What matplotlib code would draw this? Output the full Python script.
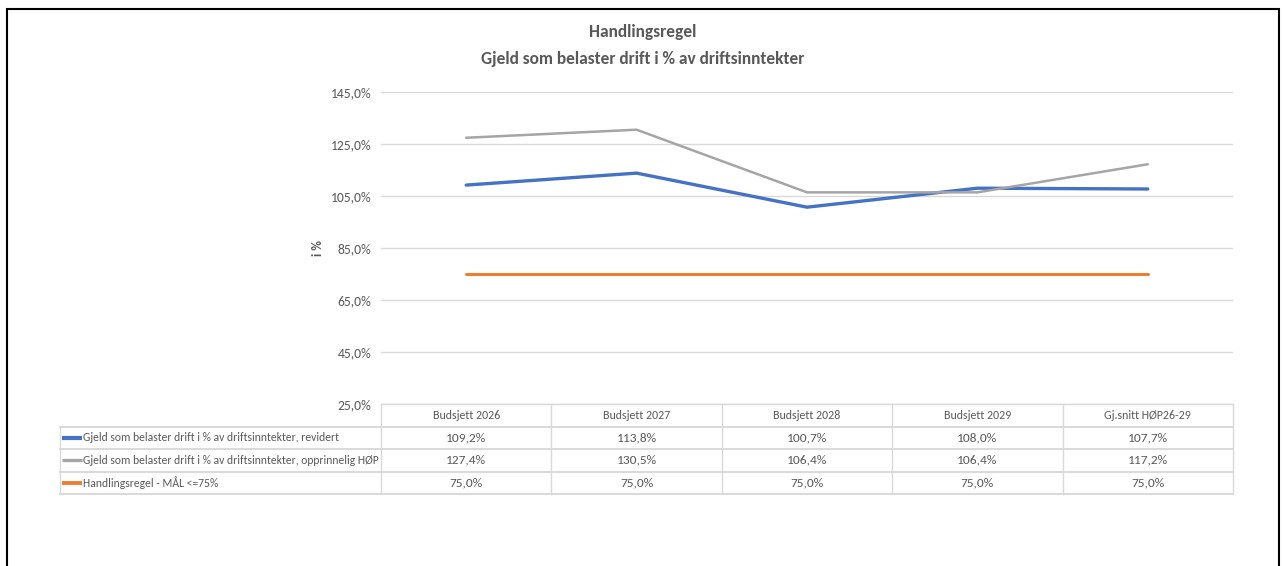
import numpy as np
import matplotlib.pyplot as plt
from matplotlib.patches import Rectangle

plt.rcParams['font.family'] = ['Carlito', 'DejaVu Sans']

# data
categories = ["Budsjett 2026", "Budsjett 2027", "Budsjett 2028", "Budsjett 2029", "Gj.snitt HØP26-29"]
revidert = [109.2, 113.8, 100.7, 108.0, 107.7]
opprinnelig = [127.4, 130.5, 106.4, 106.4, 117.2]
maal = [75.0, 75.0, 75.0, 75.0, 75.0]
series_names = ["Gjeld som belaster drift i % av driftsinntekter, revidert",
                "Gjeld som belaster drift i % av driftsinntekter, opprinnelig HØP",
                "Handlingsregel - MÅL <=75%"]
yticks = [25, 45, 65, 85, 105, 125, 145]

series = [revidert, opprinnelig, maal]
colors = ["#4472C4", "#A5A5A5", "#ED7D31"]
widths = [2.4, 1.8, 2.2]
txt = "#595959"
grid_c = "#D9D9D9"


def pct(v):
    return "{:.1f}%".format(v).replace(".", ",")


W, H = 1282, 566
fig = plt.figure(figsize=(W / 100, H / 100), dpi=100)


def box(x0, y0, x1, y1):
    # pixel box (y measured from top) -> figure fraction
    return [x0 / W, 1 - y1 / H, (x1 - x0) / W, (y1 - y0) / H]


# main plot
ax = fig.add_axes(box(381, 92, 1233, 404))
x = np.arange(len(categories))
for vals, c, lw in zip(series, colors, widths):
    ax.plot(x, vals, color=c, lw=lw, solid_capstyle="round", zorder=3)
ax.set_xlim(-0.5, len(categories) - 0.5)
ax.set_ylim(yticks[0], yticks[-1])
ax.set_yticks(yticks)
ax.set_yticklabels([pct(v) for v in yticks])
ax.set_xticks([])
ax.grid(axis="y", color=grid_c, lw=1)
for s in ax.spines.values():
    s.set_visible(False)
ax.tick_params(axis="y", length=0, pad=7, labelsize=9.8, labelcolor=txt)

fig.text(318 / W, 1 - 248 / H, "i %", rotation=90, ha="center", va="center",
         fontsize=9.5, fontweight="bold", color=txt)

# titles
fig.text(643 / W, 1 - 32 / H, "Handlingsregel", ha="center", va="center",
         fontsize=12.5, fontweight="bold", color=txt)
fig.text(643 / W, 1 - 59 / H, "Gjeld som belaster drift i % av driftsinntekter",
         ha="center", va="center", fontsize=12.5, fontweight="bold", color=txt)

# data table
unit = (1233 - 381) / len(categories)
left = -0.5 - (381 - 60) / unit
right = len(categories) - 0.5
tab = fig.add_axes(box(60, 404, 1233, 494))
tab.set_xlim(left, right)
tab.set_ylim(0, 4)
tab.axis("off")

n = len(categories)
# vertical lines
for xv in np.arange(n + 1) - 0.5:
    tab.plot([xv, xv], [0, 4], color=grid_c, lw=1, clip_on=False)
tab.plot([left, left], [0, 3], color=grid_c, lw=1, clip_on=False)
# horizontal lines
tab.plot([-0.5, right], [4, 4], color=grid_c, lw=1, clip_on=False)
for yv in [3, 2, 1, 0]:
    tab.plot([left, right], [yv, yv], color=grid_c, lw=1.4, clip_on=False)

for i, cat in enumerate(categories):
    tab.text(i, 3.5, cat, ha="center", va="center", fontsize=8.6, color=txt)

for r, (name, vals, c, lw) in enumerate(zip(series_names, series, colors, widths)):
    yc = 2.5 - r
    tab.plot([left + 2 / unit, left + 22 / unit], [yc, yc], color=c, lw=lw + 0.6,
             solid_capstyle="butt", clip_on=False)
    tab.text(left + 23 / unit, yc, name, ha="left", va="center", fontsize=8.4, color=txt)
    for i, v in enumerate(vals):
        tab.text(i, yc, pct(v), ha="center", va="center", fontsize=9.6, color=txt)

# outer frame
fig.patches.append(Rectangle((7 / W, -0.1), (1279 - 7) / W, 1 - 9 / H + 0.1,
                             transform=fig.transFigure, fill=False, ec="black", lw=1.5))

fig.savefig("out.png", dpi=100)
